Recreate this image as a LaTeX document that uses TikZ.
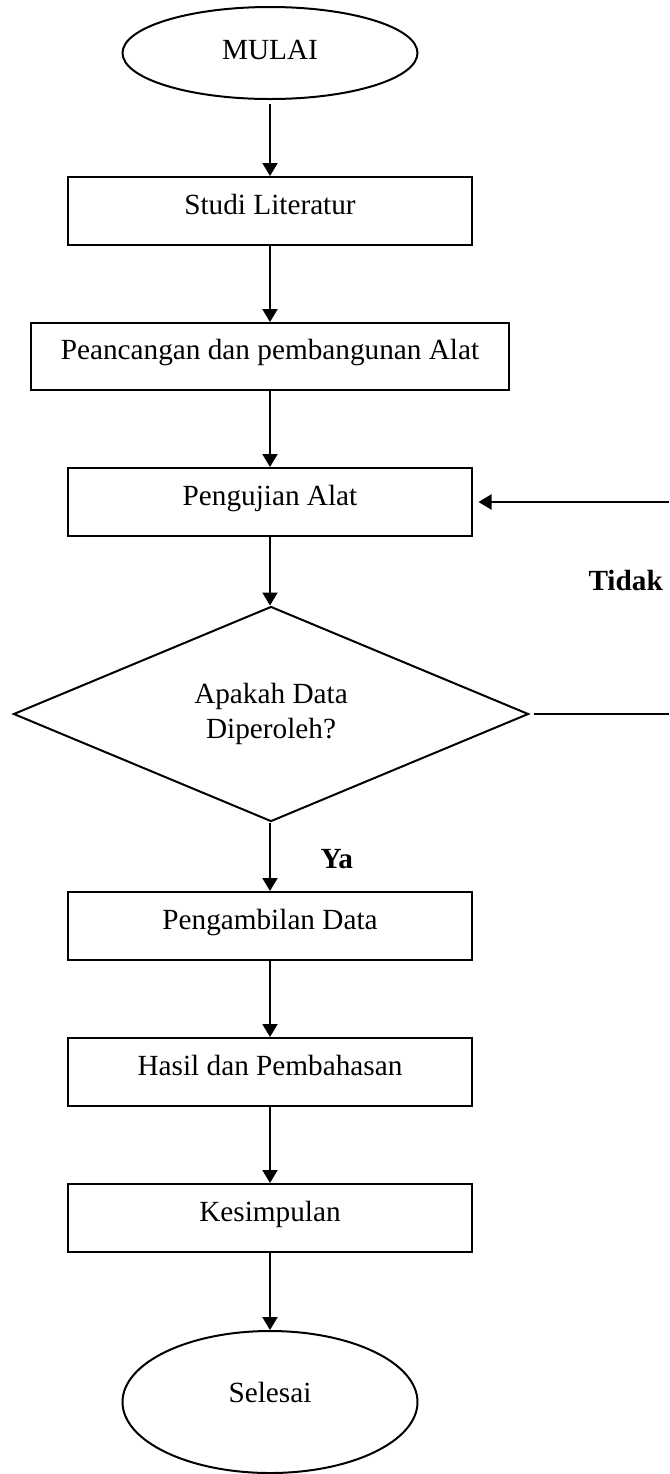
\documentclass[tikz,border=0pt]{standalone}
\usepackage{fontspec}
\setmainfont{Liberation Serif}
\usetikzlibrary{arrows.meta,shapes.geometric}

\begin{document}
\begin{tikzpicture}[
  x=0.4pt,y=-0.4pt,
  font=\fontsize{11.7}{14}\selectfont,
  box/.style={draw,line width=0.8pt,minimum width=161.2pt,minimum height=27.2pt,inner sep=2pt,text height=0.7em,text depth=0.43em},
  term/.style={draw,ellipse,line width=0.8pt,minimum width=118pt,minimum height=36.8pt,inner sep=0pt,text height=0.7em,text depth=0.22em},
  decide/.style={draw,diamond,line width=0.8pt,minimum width=206pt,minimum height=76.8pt,inner sep=0pt,align=center},
  arr/.style={-{Triangle[length=5.2pt,width=6pt]},line width=0.8pt},
  lab/.style={font=\fontsize{11.7}{14}\selectfont\bfseries,anchor=base west,inner sep=0pt}]
  \useasboundingbox (0,0) rectangle (669,1474);
  % start, study, build, test
  \node[term] (mulai) at (270,53) {MULAI};
  \node[box] (studi) at (270,211) {Studi Literatur};
  \node[box,minimum width=190.8pt,minimum height=26.8pt] (rancang) at (270,356.5) {Peancangan dan pembangunan Alat};
  \node[box] (uji) at (270,502) {Pengujian Alat};
  \draw[arr,shorten <=1.6pt] (mulai.south) -- (studi.north);
  \draw[arr] (studi.south) -- (rancang.north);
  \draw[arr] (rancang.south) -- (uji.north);
  % decision and loop back
  \node[decide] (cek) at (271,714) {Apakah Data\\Diperoleh?};
  \draw[arr] (uji.south) -- (uji.south |- cek.north);
  \coordinate (tepiA) at (669,714);
  \coordinate (tepiB) at (669,502);
  \draw[line width=0.8pt,shorten <=1.6pt] (cek.east) -- (tepiA);
  \draw[arr,shorten >=2.4pt] (tepiB) -- (uji.east);
  \node[lab] (tidak) at (588,590) {Tidak};
  \node[lab] (ya) at (320,868) {Ya};
  % data, results, end
  \node[box] (ambil) at (270,926) {Pengambilan Data};
  \node[box] (hasil) at (270,1072) {Hasil dan Pembahasan};
  \node[box] (simpul) at (270,1218) {Kesimpulan};
  \node[term,minimum height=56.8pt,text depth=0.66em] (selesai) at (270,1402) {Selesai};
  \draw[arr] (uji.south |- cek.south) -- (ambil.north);
  \draw[arr] (ambil.south) -- (hasil.north);
  \draw[arr] (hasil.south) -- (simpul.north);
  \draw[arr] (simpul.south) -- (selesai.north);
\end{tikzpicture}
\end{document}
